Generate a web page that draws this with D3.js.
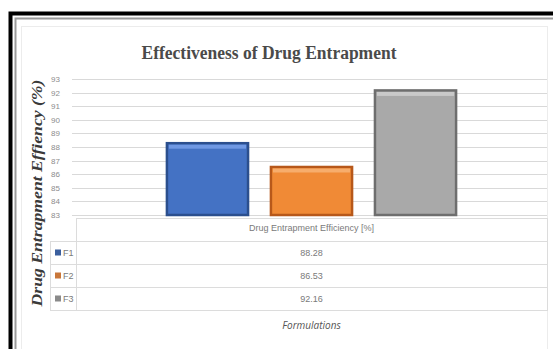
<!DOCTYPE html>
<html>
<head>
<meta charset="utf-8">
<script src="https://cdn.jsdelivr.net/npm/d3@7"></script>
<style>
  html, body { margin: 0; padding: 0; background: #fff; }
  svg { display: block; }
</style>
</head>
<body>
<svg id="chart" width="553" height="349"></svg>
<script>
// Data
const categories = ["Drug Entrapment Efficiency [%]"];
const seriesNames = ["F1", "F2", "F3"];
const seriesValues = [88.28, 86.53, 92.16];
const yTicks = [83, 84, 85, 86, 87, 88, 89, 90, 91, 92, 93];

const colors = {
  F1: { base: "#4472C4", light: "#6f98e3", dark: "#2b4f8e", key: "#3b5f9e" },
  F2: { base: "#F08A36", light: "#f7ad6c", dark: "#b7581a", key: "#c9773a" },
  F3: { base: "#A9A9A9", light: "#c9c9c9", dark: "#6e6e6e", key: "#8a8a8a" }
};

const svg = d3.select("#chart");

// Frame around the chart
svg.append("rect").attr("x", 10.5).attr("y", 13.5).attr("width", 560).attr("height", 360)
  .attr("fill", "none").attr("stroke", "#000").attr("stroke-width", 4);
svg.append("rect").attr("x", 15.5).attr("y", 18.5).attr("width", 560).attr("height", 360)
  .attr("fill", "none").attr("stroke", "#9a9a9a").attr("stroke-width", 2);
svg.append("rect").attr("x", 21.5).attr("y", 26.5).attr("width", 526).attr("height", 340)
  .attr("fill", "none").attr("stroke", "#ececec").attr("stroke-width", 1);

// Title
svg.append("text")
  .attr("x", 269).attr("y", 59)
  .attr("text-anchor", "middle")
  .attr("font-family", "'Liberation Serif', 'Times New Roman', serif")
  .attr("font-weight", "bold")
  .attr("font-size", 18)
  .attr("fill", "#4a4a4a")
  .attr("textLength", 255).attr("lengthAdjust", "spacingAndGlyphs")
  .text("Effectiveness of Drug Entrapment");

// Scales
const plotLeft = 76, plotRight = 547;
const x0 = d3.scaleBand().domain(categories).range([plotLeft, plotRight]).padding(0);
const x1 = d3.scaleBand().domain(seriesNames)
  .range([0, x0.bandwidth()]).paddingInner(0.22).paddingOuter(0.874);
const y = d3.scaleLinear().domain([83, 93]).range([215, 79]);

// Gridlines
svg.append("g")
  .selectAll("line").data(yTicks).join("line")
  .attr("x1", plotLeft - 4).attr("x2", plotRight)
  .attr("y1", d => Math.round(y(d)) + 0.5).attr("y2", d => Math.round(y(d)) + 0.5)
  .attr("stroke", "#d9d9d9").attr("stroke-width", 1);

// Y axis labels
const yAxis = d3.axisLeft(y).tickValues(yTicks).tickSize(0).tickPadding(0).tickFormat(d3.format("d"));
const yg = svg.append("g").attr("transform", `translate(${plotLeft - 16},0)`).call(yAxis);
yg.select(".domain").remove();
yg.selectAll("text")
  .attr("font-family", "'Liberation Sans Narrow', 'Liberation Sans', sans-serif")
  .attr("font-size", 8).attr("fill", "#8c8c8c");

// Y axis title
svg.append("text")
  .attr("transform", "translate(42,193) rotate(-90)")
  .attr("text-anchor", "middle")
  .attr("font-family", "'Liberation Serif', 'Times New Roman', serif")
  .attr("font-weight", "bold").attr("font-style", "italic")
  .attr("font-size", 14)
  .attr("fill", "#3a3a3a")
  .attr("textLength", 227).attr("lengthAdjust", "spacingAndGlyphs")
  .text("Drug Entrapment Effiency (%)");

// Bars with bevelled look
const barData = seriesNames.map((s, i) => ({ series: s, value: seriesValues[i], category: categories[0] }));
const bars = svg.append("g").selectAll("g").data(barData).join("g")
  .attr("transform", d => `translate(${x0(d.category) + x1(d.series)},0)`);

bars.append("rect")
  .attr("x", 0).attr("y", d => y(d.value))
  .attr("width", x1.bandwidth()).attr("height", d => y(83) - y(d.value))
  .attr("fill", d => colors[d.series].base)
  .attr("stroke", d => colors[d.series].dark).attr("stroke-width", 2.5);
bars.append("rect")
  .attr("x", 2).attr("y", d => y(d.value) + 1.5)
  .attr("width", x1.bandwidth() - 4).attr("height", 4)
  .attr("fill", d => colors[d.series].light);

// Data table
const tableTop = 218, headerBottom = 241, rowH = 23;
const keyLeft = 50;
const tg = svg.append("g");
const lineColor = "#dcdcdc";
// header row
tg.append("rect").attr("x", plotLeft + 0.5).attr("y", tableTop + 0.5)
  .attr("width", plotRight - plotLeft).attr("height", headerBottom - tableTop)
  .attr("fill", "none").attr("stroke", lineColor);
// data rows
seriesNames.forEach((s, i) => {
  const top = headerBottom + i * rowH;
  tg.append("rect").attr("x", keyLeft + 0.5).attr("y", top + 0.5)
    .attr("width", plotRight - keyLeft).attr("height", rowH)
    .attr("fill", "none").attr("stroke", lineColor);
  tg.append("rect").attr("x", 55).attr("y", top + rowH / 2 - 3)
    .attr("width", 6).attr("height", 6).attr("fill", colors[s].key);
  tg.append("text").attr("x", 63).attr("y", top + rowH / 2 + 3.5)
    .attr("font-family", "'Liberation Sans Narrow', 'Liberation Sans', sans-serif")
    .attr("font-size", 9).attr("fill", "#7a7a7a").text(s);
  tg.append("text")
    .attr("x", x0(categories[0]) + x0.bandwidth() / 2).attr("y", top + rowH / 2 + 3.5)
    .attr("text-anchor", "middle")
    .attr("font-family", "'Liberation Sans Narrow', 'Liberation Sans', sans-serif")
    .attr("font-size", 9).attr("fill", "#7a7a7a")
    .text(d3.format(".2f")(seriesValues[i]));
});
tg.append("line").attr("x1", plotLeft + 0.5).attr("x2", plotLeft + 0.5)
  .attr("y1", headerBottom).attr("y2", headerBottom + rowH * 3)
  .attr("stroke", lineColor);
tg.append("text")
  .attr("x", x0(categories[0]) + x0.bandwidth() / 2).attr("y", tableTop + 13)
  .attr("text-anchor", "middle")
  .attr("font-family", "'Liberation Sans Narrow', 'Liberation Sans', sans-serif")
  .attr("font-size", 9).attr("fill", "#7a7a7a")
  .text(categories[0]);

// X axis title
svg.append("text")
  .attr("x", x0(categories[0]) + x0.bandwidth() / 2).attr("y", 329)
  .attr("text-anchor", "middle")
  .attr("font-family", "'Open Sans', 'Liberation Sans', sans-serif")
  .attr("font-style", "italic")
  .attr("font-size", 10).attr("fill", "#555")
  .text("Formulations");
</script>
</body>
</html>
